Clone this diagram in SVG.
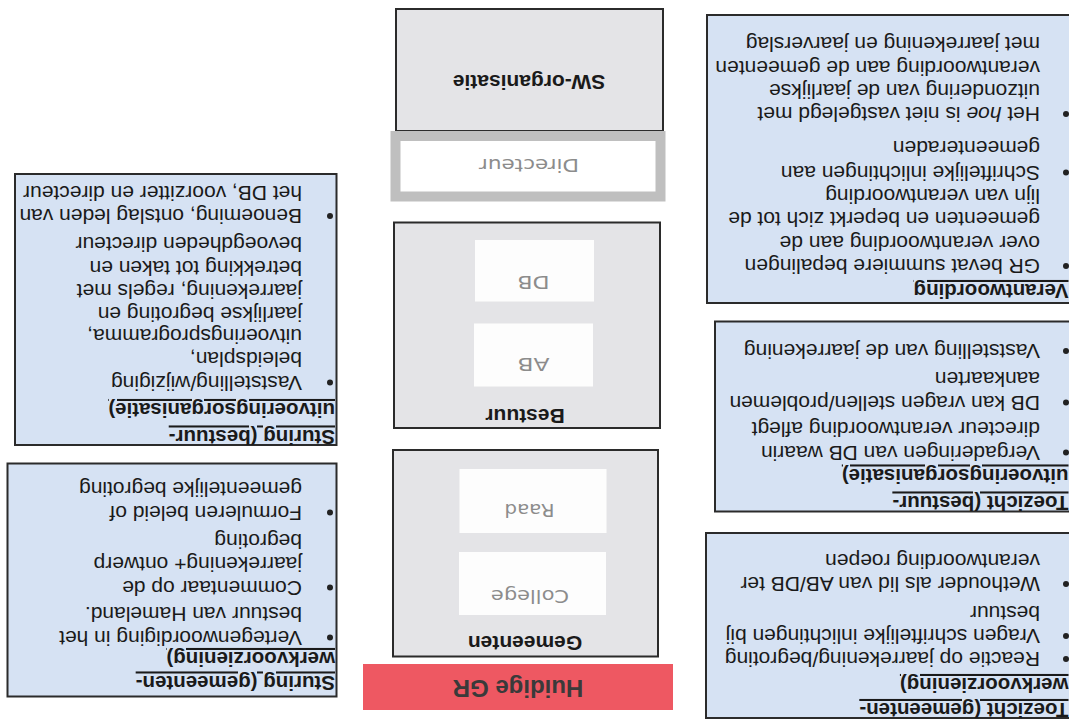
<svg xmlns="http://www.w3.org/2000/svg" width="1069" height="720" viewBox="0 0 1069 720">
<style>
.bl{fill:#d6e2f3;stroke:#2b2b2b;stroke-width:2}
.gr{fill:#e4e4e7;stroke:#2b2b2b;stroke-width:2}
.wh{fill:#fdfdfd}
.t{font-family:"Liberation Sans",Arial,sans-serif;font-size:21px;fill:#1a1a1a}
.h{font-family:"Liberation Sans",Arial,sans-serif;font-size:20.5px;font-weight:bold;fill:#1a1a1a;text-decoration:underline}
.c{font-family:"Liberation Sans",Arial,sans-serif;font-size:21px;font-weight:bold;fill:#1a1a1a;text-anchor:middle}
.s{font-family:"DejaVu Sans",Verdana,sans-serif;font-size:17px;fill:#8c8c8c;text-anchor:middle}
.d{fill:#222}
</style>
<rect width="1069" height="720" fill="#fff"/>
<g transform="rotate(180 534.5 360)">
<g id="toezicht-gemeenten">
<rect class="bl" x="-3" y="2" width="366" height="185"/>
<text class="h" x="0.5" y="17">Toezicht (gemeenten-</text>
<text class="h" x="0.5" y="42">werkvoorziening)</text>
<circle class="d" cx="3" cy="61" r="3"/>
<text class="t" x="29" y="68">Reactie op jaarrekening/begroting</text>
<circle class="d" cx="3" cy="84" r="3"/>
<text class="t" x="29" y="91">Vragen schriftelijke inlichtingen bij</text>
<text class="t" x="29" y="114.5">bestuur</text>
<circle class="d" cx="3" cy="136" r="3"/>
<text class="t" x="29" y="143">Wethouder als lid van AB/DB ter</text>
<text class="t" x="29" y="166">verantwoording roepen</text>
</g>
<g id="toezicht-bestuur">
<rect class="bl" x="-3" y="208.5" width="357" height="190"/>
<text class="h" x="0.5" y="224.5">Toezicht (bestuur-</text>
<text class="h" x="0.5" y="251.5">uitvoeringsorganisatie)</text>
<circle class="d" cx="3" cy="267.5" r="3"/>
<text class="t" x="29" y="274.5">Vergaderingen van DB waarin</text>
<text class="t" x="29" y="298">directeur verantwoording aflegt</text>
<circle class="d" cx="3" cy="317.5" r="3"/>
<text class="t" x="29" y="324.5">DB kan vragen stellen/problemen</text>
<text class="t" x="29" y="348">aankaarten</text>
<circle class="d" cx="3" cy="369" r="3"/>
<text class="t" x="29" y="376">Vaststelling van de jaarrekening</text>
</g>
<g id="verantwoording">
<rect class="bl" x="-3" y="417" width="365" height="288"/>
<text class="h" x="0.5" y="436">Verantwoording</text>
<circle class="d" cx="3" cy="454" r="3"/>
<text class="t" x="29" y="461">GR bevat summiere bepalingen</text>
<text class="t" x="29" y="484.5">over verantwoording aan de</text>
<text class="t" x="29" y="508">gemeenten en beperkt zich tot de</text>
<text class="t" x="29" y="531">lijn van verantwoording</text>
<circle class="d" cx="3" cy="547.5" r="3"/>
<text class="t" x="29" y="554.5">Schriftelijke inlichtingen aan</text>
<text class="t" x="29" y="579.5">gemeenteraden</text>
<circle class="d" cx="3" cy="606" r="3"/>
<text class="t" x="29" y="613">Het <tspan font-style="italic">hoe</tspan> is niet vastgelegd met</text>
<text class="t" x="29" y="636">uitzondering van de jaarlijkse</text>
<text class="t" x="29" y="659.5">verantwoording aan de gemeenten</text>
<text class="t" x="29" y="683">met jaarrekening en jaarverslag</text>
</g>
<g id="sturing-gemeenten">
<rect class="bl" x="732.5" y="23.5" width="329" height="233"/>
<text class="h" x="734" y="44.5">Sturing (gemeenten-</text>
<text class="h" x="734" y="68">werkvoorziening)</text>
<circle class="d" cx="739" cy="82.5" r="3"/>
<text class="t" x="767" y="89.5">Vertegenwoordiging in het</text>
<text class="t" x="767" y="113">bestuur van Hameland.</text>
<circle class="d" cx="739" cy="132.5" r="3"/>
<text class="t" x="767" y="139.5">Commentaar op de</text>
<text class="t" x="767" y="163">jaarrekening+ ontwerp</text>
<text class="t" x="767" y="186">begroting</text>
<circle class="d" cx="739" cy="207.5" r="3"/>
<text class="t" x="767" y="214.5">Formuleren beleid of</text>
<text class="t" x="767" y="238">gemeentelijke begroting</text>
</g>
<g id="sturing-bestuur">
<rect class="bl" x="732.5" y="275" width="321.5" height="271"/>
<text class="h" x="734" y="290.5">Sturing (bestuur-</text>
<text class="h" x="734" y="317">uitvoeringsorganisatie)</text>
<circle class="d" cx="739" cy="337.5" r="3"/>
<text class="t" x="767" y="344.5">Vaststelling/wijziging</text>
<text class="t" x="767" y="368">beleidsplan,</text>
<text class="t" x="767" y="391">uitvoeringsprogramma,</text>
<text class="t" x="767" y="413">jaarlijkse begroting en</text>
<text class="t" x="767" y="436">jaarrekening, regels met</text>
<text class="t" x="767" y="459.5">betrekking tot taken en</text>
<text class="t" x="767" y="483">bevoegdheden directeur</text>
<circle class="d" cx="739" cy="504" r="3"/>
<text class="t" x="767" y="511">Benoeming, ontslag leden van</text>
<text class="t" x="767" y="534.5">het DB, voorzitter en directeur</text>
</g>
<g id="huidige-gr">
<rect x="396" y="10" width="310" height="46" fill="#ee5862"/>
<text x="551" y="40" font-family="Liberation Sans, Arial, sans-serif" font-size="24" font-weight="bold" fill="#3a3a3a" text-anchor="middle">Huidige GR</text>
</g>
<g id="gemeenten">
<rect class="gr" x="411" y="63.5" width="265" height="206.5"/>
<text class="c" x="544" y="84">Gemeenten</text>
<rect class="wh" x="463" y="105" width="147" height="63"/>
<text class="s" x="539" y="130" textLength="78" lengthAdjust="spacingAndGlyphs">College</text>
<rect class="wh" x="462.5" y="187" width="147" height="64"/>
<text class="s" x="539.5" y="216" textLength="50" lengthAdjust="spacingAndGlyphs" fill="#7f9696">Raad</text>
</g>
<g id="bestuur">
<rect class="gr" x="409" y="292" width="266" height="205.5"/>
<text class="c" x="544" y="311">Bestuur</text>
<rect class="wh" x="476" y="333.5" width="119" height="63"/>
<text class="s" x="535.5" y="362.5" textLength="32" lengthAdjust="spacingAndGlyphs">AB</text>
<rect class="wh" x="475" y="418.5" width="119" height="61.5"/>
<text class="s" x="535.5" y="444" textLength="32" lengthAdjust="spacingAndGlyphs">DB</text>
</g>
<g id="sw-organisatie">
<rect class="gr" x="406" y="589" width="267" height="122"/>
<text class="c" x="540" y="645">SW-organisatie</text>
</g>
<g id="directeur">
<rect x="408.5" y="523.5" width="265" height="60.5" fill="#fff" stroke="#bfbfbf" stroke-width="10"/>
<text class="s" x="540" y="561" textLength="100" lengthAdjust="spacingAndGlyphs">Directeur</text>
</g>
</g>
</svg>
